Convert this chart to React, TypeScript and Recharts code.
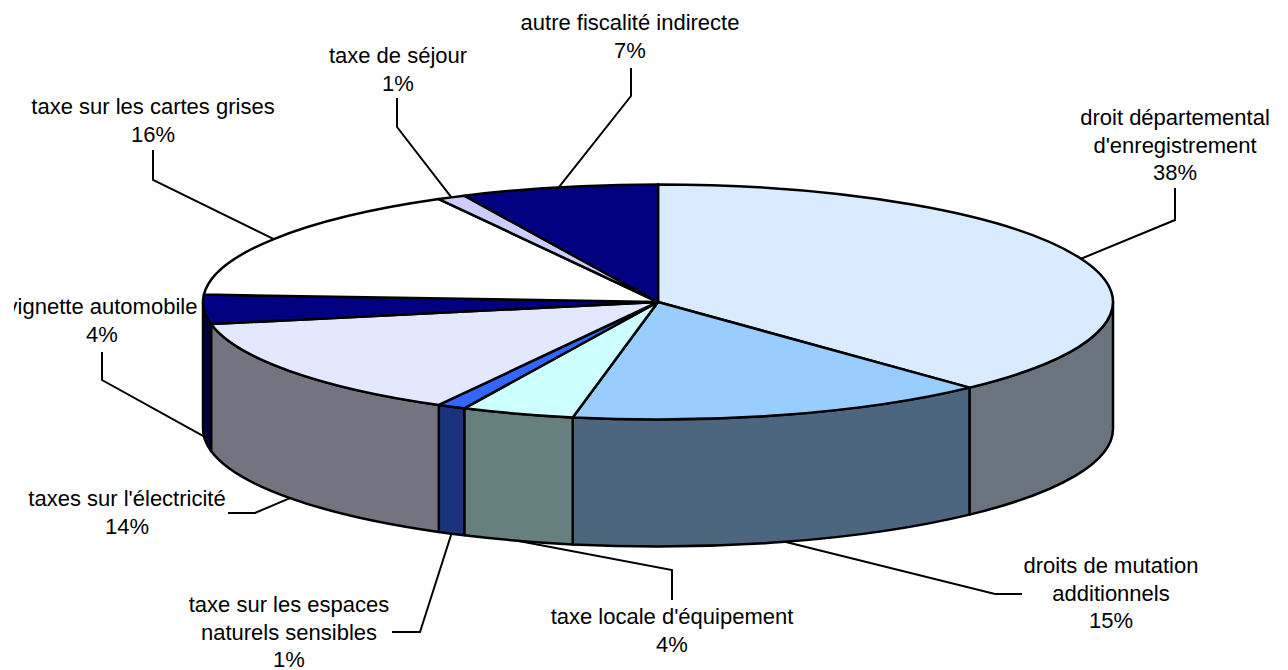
import React from "react";
import { Pie, PieChart } from "recharts";

const categories = [
  "droit départemental d'enregistrement",
  "droits de mutation additionnels",
  "taxe locale d'équipement",
  "taxe sur les espaces naturels sensibles",
  "taxes sur l'électricité",
  "vignette automobile",
  "taxe sur les cartes grises",
  "taxe de séjour",
  "autre fiscalité indirecte",
];
const shares = [38, 15, 4, 1, 14, 4, 16, 1, 7];
const topColors = ["#D9EBFF", "#99CCFF", "#CCFFFF", "#3366FF", "#E3E8FF", "#000080", "#FFFFFF", "#CCCCFF", "#000080"];
const wallColors = ["#69747E", "#4D6680", "#668080", "#19337F", "#737480", "#000040", "#808080", "#666680", "#000040"];

// Label text split over lines, in slice order
const labelLines = [
  ["droit départemental", "d'enregistrement"],
  ["droits de mutation", "additionnels"],
  ["taxe locale d'équipement"],
  ["taxe sur les espaces", "naturels sensibles"],
  ["taxes sur l'électricité"],
  ["vignette automobile"],
  ["taxe sur les cartes grises"],
  ["taxe de séjour"],
  ["autre fiscalité indirecte"],
];

// Where each label sits: text centre, first baseline, leader elbow and leader end
const labelSpots = [
  { x: 1175, y: 125, elbow: [1175, 220], end: [1175, 188] },
  { x: 1111, y: 573, elbow: [995, 594], end: [1022, 594] },
  { x: 672, y: 624, elbow: [672, 570], end: [672, 600] },
  { x: 289, y: 612, elbow: [420, 632], end: [392, 632] },
  { x: 127, y: 506, elbow: [255, 513], end: [228, 513] },
  { x: 102, y: 314, elbow: [102, 380], end: [102, 352], clipLeft: 14 },
  { x: 153, y: 114, elbow: [153, 180], end: [153, 150] },
  { x: 398, y: 63, elbow: [397, 127], end: [397, 98] },
  { x: 630, y: 30, elbow: [631, 96], end: [631, 68] },
];

const chartData = categories.map((name, i) => ({
  name,
  value: shares[i],
  fill: topColors[i],
  wall: wallColors[i],
  index: i,
}));

const RX = 455;
const RY = 117.5;
const DEPTH = 127;
const LINE_HEIGHT = 27.5;

const rad = (deg: number) => (deg * Math.PI) / 180;
const rimX = (cx: number, deg: number) => cx + RX * Math.cos(rad(deg));
const rimY = (cy: number, deg: number) => cy - RY * Math.sin(rad(deg));

// Flattened sector plus the visible part of its outer wall
function renderSlice(props: any) {
  const { cx, cy, startAngle, endAngle, fill, payload } = props;
  const large = startAngle - endAngle > 180 ? 1 : 0;
  const top =
    `M${cx},${cy} L${rimX(cx, startAngle)},${rimY(cy, startAngle)} ` +
    `A${RX},${RY} 0 ${large} 1 ${rimX(cx, endAngle)},${rimY(cy, endAngle)} Z`;

  // only the front half of the rim (angles 0 to -180) shows a wall
  const wallStart = Math.min(startAngle, 0);
  const wallEnd = Math.max(endAngle, -180);
  let wall = null;
  if (wallStart > wallEnd) {
    const x1 = rimX(cx, wallStart);
    const y1 = rimY(cy, wallStart);
    const x2 = rimX(cx, wallEnd);
    const y2 = rimY(cy, wallEnd);
    wall = (
      <path
        d={`M${x1},${y1} A${RX},${RY} 0 0 1 ${x2},${y2} L${x2},${y2 + DEPTH} A${RX},${RY} 0 0 0 ${x1},${y1 + DEPTH} Z`}
        fill={payload.wall}
        stroke="#000"
        strokeWidth={2.5}
        strokeLinejoin="round"
      />
    );
  }
  return (
    <g>
      {wall}
      <path d={top} fill={fill} stroke="#000" strokeWidth={2.5} strokeLinejoin="round" />
    </g>
  );
}

function renderLabel(props: any) {
  const { cx, cy, midAngle, value, payload } = props;
  const i = payload.index;
  const spot = labelSpots[i];
  const onFront = Math.sin(rad(midAngle)) < 0;
  const startX = rimX(cx, midAngle);
  const startY = rimY(cy, midAngle) + (onFront ? DEPTH : 0);
  const lines = [...labelLines[i], `${value}%`];
  const clipId = `label-clip-${i}`;
  return (
    <g>
      <polyline
        points={`${startX},${startY} ${spot.elbow.join(",")} ${spot.end.join(",")}`}
        fill="none"
        stroke="#000"
        strokeWidth={2}
      />
      {spot.clipLeft !== undefined && (
        <clipPath id={clipId}>
          <rect x={spot.clipLeft} y={0} width={1288} height={670} />
        </clipPath>
      )}
      <text
        textAnchor="middle"
        fontFamily="'Liberation Sans', Arial, sans-serif"
        fontSize={22}
        fill="#000"
        clipPath={spot.clipLeft !== undefined ? `url(#${clipId})` : undefined}
      >
        {lines.map((line, n) => (
          <tspan key={n} x={spot.x} y={spot.y + n * LINE_HEIGHT}>
            {line}
          </tspan>
        ))}
      </text>
    </g>
  );
}

export default function App() {
  return (
    <div style={{ position: "absolute", left: 0, top: 0, width: 1288, height: 670, background: "#fff" }}>
      <PieChart width={1288} height={670} margin={{ top: 0, right: 0, bottom: 0, left: 0 }}>
        <Pie
          data={chartData}
          dataKey="value"
          nameKey="name"
          cx={658}
          cy={302}
          innerRadius={0}
          outerRadius={RX}
          startAngle={90}
          endAngle={-270}
          shape={renderSlice}
          label={renderLabel}
          labelLine={false}
          isAnimationActive={false}
        />
      </PieChart>
    </div>
  );
}
